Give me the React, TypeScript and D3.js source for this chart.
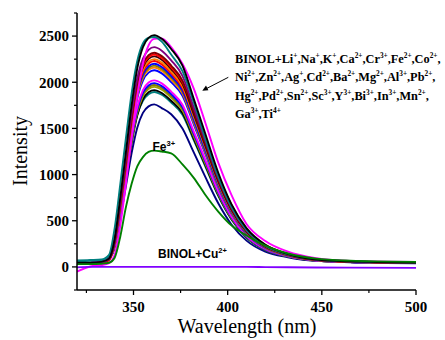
import React from "react";
import * as d3 from "d3";

const wavelengths = [320, 327, 333, 337, 340, 343, 346, 349, 352, 355, 358, 361, 365, 370, 376, 382, 388, 395, 402, 410, 420, 432, 447, 465, 500];

const black1 = [45, 45, 55, 90, 300, 750, 1250, 1750, 2150, 2380, 2480, 2510, 2470, 2360, 2180, 1820, 1450, 1020, 680, 420, 240, 140, 80, 60, 48];
const teal1 = [70, 75, 80, 130, 420, 900, 1400, 1880, 2230, 2420, 2480, 2490, 2440, 2300, 2120, 1780, 1400, 980, 650, 400, 230, 135, 80, 60, 48];
const magenta1 = [-50, 5, 20, 40, 130, 450, 900, 1400, 1850, 2200, 2400, 2470, 2475, 2380, 2200, 1930, 1570, 1130, 780, 465, 280, 165, 95, 65, 55];
const purple = [40, 42, 50, 85, 285, 714, 1190, 1666, 2040, 2256, 2351, 2380, 2342, 2237, 2070, 1725, 1375, 966, 645, 397, 228, 135, 78, 58, 46];
const wine = [38, 40, 48, 80, 278, 696, 1160, 1624, 1988, 2199, 2292, 2320, 2283, 2181, 2018, 1682, 1341, 942, 629, 387, 223, 132, 76, 57, 45];
const red1 = [35, 38, 45, 75, 276, 690, 1150, 1610, 1971, 2180, 2272, 2300, 2263, 2162, 2001, 1720, 1400, 990, 670, 410, 240, 138, 80, 58, 47];
const black2 = [40, 42, 50, 85, 274, 684, 1140, 1596, 1954, 2161, 2253, 2280, 2244, 2143, 1984, 1653, 1318, 926, 618, 381, 219, 130, 76, 57, 45];
const orange1 = [35, 38, 45, 78, 270, 675, 1125, 1575, 1928, 2133, 2223, 2250, 2214, 2115, 1958, 1631, 1301, 914, 610, 376, 216, 128, 75, 56, 45];
const red2 = [35, 38, 45, 75, 268, 669, 1115, 1561, 1911, 2114, 2203, 2230, 2194, 2096, 1940, 1640, 1320, 940, 640, 395, 230, 135, 78, 58, 47];
const blue1 = [40, 42, 50, 85, 264, 660, 1100, 1540, 1885, 2086, 2174, 2200, 2165, 2068, 1914, 1595, 1272, 893, 596, 367, 211, 126, 74, 55, 44];
const olive1 = [40, 42, 50, 85, 262, 654, 1090, 1526, 1868, 2067, 2154, 2180, 2145, 2049, 1897, 1581, 1260, 885, 591, 364, 209, 125, 74, 55, 44];
const orange2 = [35, 38, 45, 78, 259, 648, 1080, 1512, 1851, 2048, 2134, 2160, 2125, 2030, 1879, 1566, 1248, 877, 585, 361, 207, 124, 73, 55, 44];
const blue2 = [40, 42, 50, 85, 256, 639, 1065, 1491, 1825, 2019, 2104, 2130, 2096, 2002, 1853, 1544, 1231, 865, 577, 356, 204, 123, 73, 54, 44];
const magenta2 = [30, 32, 40, 70, 242, 606, 1010, 1414, 1731, 1915, 1996, 2020, 1988, 1899, 1757, 1465, 1168, 820, 547, 337, 194, 118, 70, 53, 43];
const blue3 = [40, 42, 50, 85, 239, 597, 995, 1393, 1705, 1887, 1966, 1990, 1958, 1871, 1731, 1443, 1150, 808, 539, 332, 191, 116, 70, 53, 43];
const olive2 = [40, 42, 50, 85, 236, 591, 985, 1379, 1688, 1868, 1946, 1970, 1938, 1852, 1714, 1428, 1139, 800, 534, 329, 189, 115, 69, 52, 43];
const darkYellow = [38, 40, 48, 82, 234, 585, 975, 1365, 1671, 1849, 1927, 1950, 1919, 1833, 1697, 1414, 1127, 792, 528, 326, 187, 114, 69, 52, 43];
const black3 = [40, 42, 50, 85, 230, 575, 958, 1341, 1641, 1815, 1892, 1915, 1884, 1800, 1666, 1388, 1107, 777, 519, 320, 184, 113, 68, 52, 42];
const teal2 = [60, 65, 72, 115, 300, 640, 1010, 1380, 1650, 1800, 1870, 1895, 1865, 1781, 1649, 1374, 1095, 769, 514, 316, 182, 112, 68, 52, 42];
const navy = [40, 42, 50, 85, 211, 528, 880, 1232, 1508, 1668, 1739, 1760, 1720, 1654, 1500, 1240, 980, 690, 460, 285, 165, 105, 65, 50, 40];
const fe3 = [30, 30, 35, 45, 100, 330, 650, 900, 1090, 1190, 1245, 1260, 1250, 1230, 1110, 965, 785, 600, 450, 340, 230, 145, 90, 68, 55];
const cu2 = [-5, 0, 0, 0, 0, 0, 0, 0, 0, 0, 0, 0, 0, 0, 0, 0, 0, 0, 0, 0, -2, -4, -6, -8, -10];

const seriesList: { values: number[]; color: string }[] = [
  { values: navy, color: "#000080" },
  { values: teal2, color: "#008080" },
  { values: black3, color: "#000000" },
  { values: darkYellow, color: "#A0A000" },
  { values: olive2, color: "#808000" },
  { values: blue3, color: "#0000FF" },
  { values: magenta2, color: "#FF00FF" },
  { values: blue2, color: "#0000FF" },
  { values: orange2, color: "#FF8000" },
  { values: olive1, color: "#808000" },
  { values: blue1, color: "#0000FF" },
  { values: red2, color: "#FF0000" },
  { values: orange1, color: "#FF8000" },
  { values: black2, color: "#400000" },
  { values: red1, color: "#FF0000" },
  { values: wine, color: "#800000" },
  { values: purple, color: "#800080" },
  { values: magenta1, color: "#FF00FF" },
  { values: teal1, color: "#008080" },
  { values: black1, color: "#000000" },
  { values: fe3, color: "#008000" },
  { values: cu2, color: "#8000FF" },
];

const xTicks = [350, 400, 450, 500];
const xMinor = [325, 375, 425, 475];
const yTicks = [0, 500, 1000, 1500, 2000, 2500];
const yMinor = [-250, 250, 750, 1250, 1750, 2250, 2750];

const annotationLines: [string, string][][] = [
  [["BINOL+Li", "+"], [",Na", "+"], [",K", "+"], [",Ca", "2+"], [",Cr", "3+"], [",Fe", "2+"], [",Co", "2+"], [",", ""]],
  [["Ni", "2+"], [",Zn", "2+"], [",Ag", "+"], [",Cd", "2+"], [",Ba", "2+"], [",Mg", "2+"], [",Al", "3+"], [",Pb", "2+"], [",", ""]],
  [["Hg", "2+"], [",Pd", "2+"], [",Sn", "2+"], [",Sc", "3+"], [",Y", "3+"], [",Bi", "3+"], [",In", "3+"], [",Mn", "2+"], [",", ""]],
  [["Ga", "3+"], [",Ti", "4+"]],
];

function SupText({ parts, x, y, size, supSize, family, weight, shift }: any) {
  const spans: any[] = [];
  let prevSup = false;
  parts.forEach(([base, sup]: [string, string], i: number) => {
    spans.push(
      <tspan key={"b" + i} dy={prevSup ? shift : 0} fontSize={size}>
        {base}
      </tspan>
    );
    if (sup) {
      spans.push(
        <tspan key={"s" + i} dy={-shift} fontSize={supSize}>
          {sup}
        </tspan>
      );
      prevSup = true;
    } else prevSup = false;
  });
  return (
    <text x={x} y={y} fontFamily={family} fontWeight={weight} fill="#000">
      {spans}
    </text>
  );
}

export default function App() {
  const W = 445, H = 340;
  const x = d3.scaleLinear().domain([320, 500]).range([77, 416]);
  const y = d3.scaleLinear().domain([-250, 2750]).range([290, 13]);
  const line = d3
    .line<number>()
    .x((_, i) => x(wavelengths[i]))
    .y((d) => y(d))
    .curve(d3.curveMonotoneX);
  const serif = "'Liberation Serif', 'Times New Roman', serif";
  const sans = "'Liberation Sans', Arial, sans-serif";
  return (
    <svg width={W} height={H} style={{ position: "absolute", left: 0, top: 0, background: "#fff" }}>
      <defs>
        <clipPath id="plot">
          <rect x={77} y={13} width={339} height={277} />
        </clipPath>
      </defs>
      <g clipPath="url(#plot)">
        {seriesList.map((s, i) => (
          <path key={i} d={line(s.values) || ""} fill="none" stroke={s.color} strokeWidth={1.9} strokeLinejoin="round" />
        ))}
      </g>
      <line x1={77} x2={77} y1={y(2750)} y2={y(-250)} stroke="#000" strokeWidth={1.5} />
      <line x1={77} x2={416} y1={y(-250)} y2={y(-250)} stroke="#000" strokeWidth={1.5} />
      {yTicks.map((t) => (
        <g key={"y" + t}>
          <line x1={72} x2={77} y1={y(t)} y2={y(t)} stroke="#000" strokeWidth={1.3} />
          <text x={69} y={y(t)} dy="0.35em" textAnchor="end" fontFamily={serif} fontWeight="bold" fontSize={15}>
            {t}
          </text>
        </g>
      ))}
      {yMinor.map((t) => (
        <line key={"ym" + t} x1={74} x2={77} y1={y(t)} y2={y(t)} stroke="#000" strokeWidth={1.2} />
      ))}
      {xTicks.map((t) => (
        <g key={"x" + t}>
          <line x1={x(t)} x2={x(t)} y1={290} y2={295} stroke="#000" strokeWidth={1.3} />
          <text x={x(t)} y={311.5} textAnchor="middle" fontFamily={serif} fontWeight="bold" fontSize={15}>
            {t}
          </text>
        </g>
      ))}
      {xMinor.map((t) => (
        <line key={"xm" + t} x1={x(t)} x2={x(t)} y1={290} y2={293} stroke="#000" strokeWidth={1.2} />
      ))}
      <text x={247} y={333} textAnchor="middle" fontFamily={serif} fontSize={20}>
        Wavelength (nm)
      </text>
      <text transform="translate(27,151) rotate(-90)" textAnchor="middle" fontFamily={serif} fontSize={20}>
        Intensity
      </text>
      {annotationLines.map((parts, i) => (
        <SupText key={i} parts={parts} x={235} y={63.3 + i * 18.1} size={12.3} supSize={7.3} family={serif} weight="bold" shift={5} />
      ))}
      <line x1={228.3} y1={77.3} x2={207} y2={88.3} stroke="#000" strokeWidth={1} />
      <path d="M202.3,90.7 L206,85.6 L208.4,90.3 Z" fill="#000" />
      <SupText parts={[["Fe", "3+"]]} x={152.5} y={150.5} size={12} supSize={7.5} family={sans} weight="bold" shift={5} />
      <SupText parts={[["BINOL+Cu", "2+"]]} x={158} y={258} size={12} supSize={7.5} family={sans} weight="bold" shift={5} />
    </svg>
  );
}
